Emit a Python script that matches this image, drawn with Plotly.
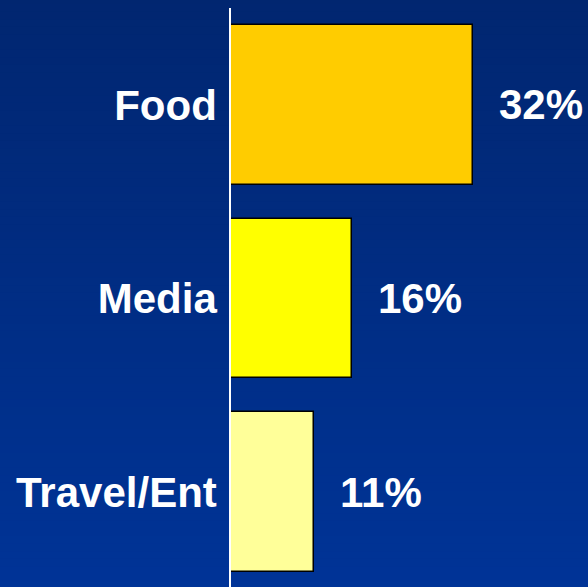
import plotly.graph_objects as go

categories = ["Food", "Media", "Travel/Ent"]
shares = [32, 16, 11]
value_labels = ["32%", "16%", "11%"]
bar_colors = ["#FFCC00", "#FFFF00", "#FFFF99"]

W, H = 588, 587
top_rgb = (1, 38, 112)
bottom_rgb = (0, 52, 152)

fig = go.Figure()

fig.add_trace(go.Bar(
    y=categories,
    x=shares,
    orientation="h",
    marker=dict(color=bar_colors, line=dict(color="#000000", width=1.5)),
    width=0.825,
    hoverinfo="skip",
))

for cat, val, lab in zip(categories, shares, value_labels):
    fig.add_annotation(
        x=val, y=cat, text=lab, showarrow=False,
        xanchor="left", yanchor="middle", xshift=24,
        font=dict(family="Liberation Sans, Arial", size=42, color="white"),
    )

# vertical gradient background built from thin bands
n = 80
shapes = []
for i in range(n):
    t = i / (n - 1)
    r = round(top_rgb[0] + (bottom_rgb[0] - top_rgb[0]) * t)
    g = round(top_rgb[1] + (bottom_rgb[1] - top_rgb[1]) * t)
    b = round(top_rgb[2] + (bottom_rgb[2] - top_rgb[2]) * t)
    y1 = 1.02 - i * (1.05 / n)
    y0 = y1 - 1.05 / n - 0.002
    shapes.append(dict(
        type="rect", xref="paper", yref="paper",
        x0=-1, x1=1.1, y0=y0, y1=y1,
        fillcolor=f"rgb({r},{g},{b})", line=dict(width=0), layer="below",
    ))
fig.update_layout(shapes=shapes)

fig.update_layout(
    width=W, height=H,
    margin=dict(l=231, r=0, t=8, b=0),
    paper_bgcolor="rgb(0,46,133)",
    plot_bgcolor="rgba(0,0,0,0)",
    showlegend=False,
    bargap=0,
    xaxis=dict(range=[0, 47.2], visible=False, fixedrange=True),
    yaxis=dict(
        range=[2.49, -0.5],
        showline=True, linecolor="white", linewidth=1.6,
        showgrid=False, zeroline=False, ticks="",
        ticklabelstandoff=4,
        tickfont=dict(family="Liberation Sans, Arial", size=42, color="white"),
    ),
    font=dict(family="Liberation Sans, Arial"),
)
fig.update_yaxes(tickfont_weight="bold")
for a in fig.layout.annotations:
    a.font.weight = "bold"

fig.write_html("out.html")
